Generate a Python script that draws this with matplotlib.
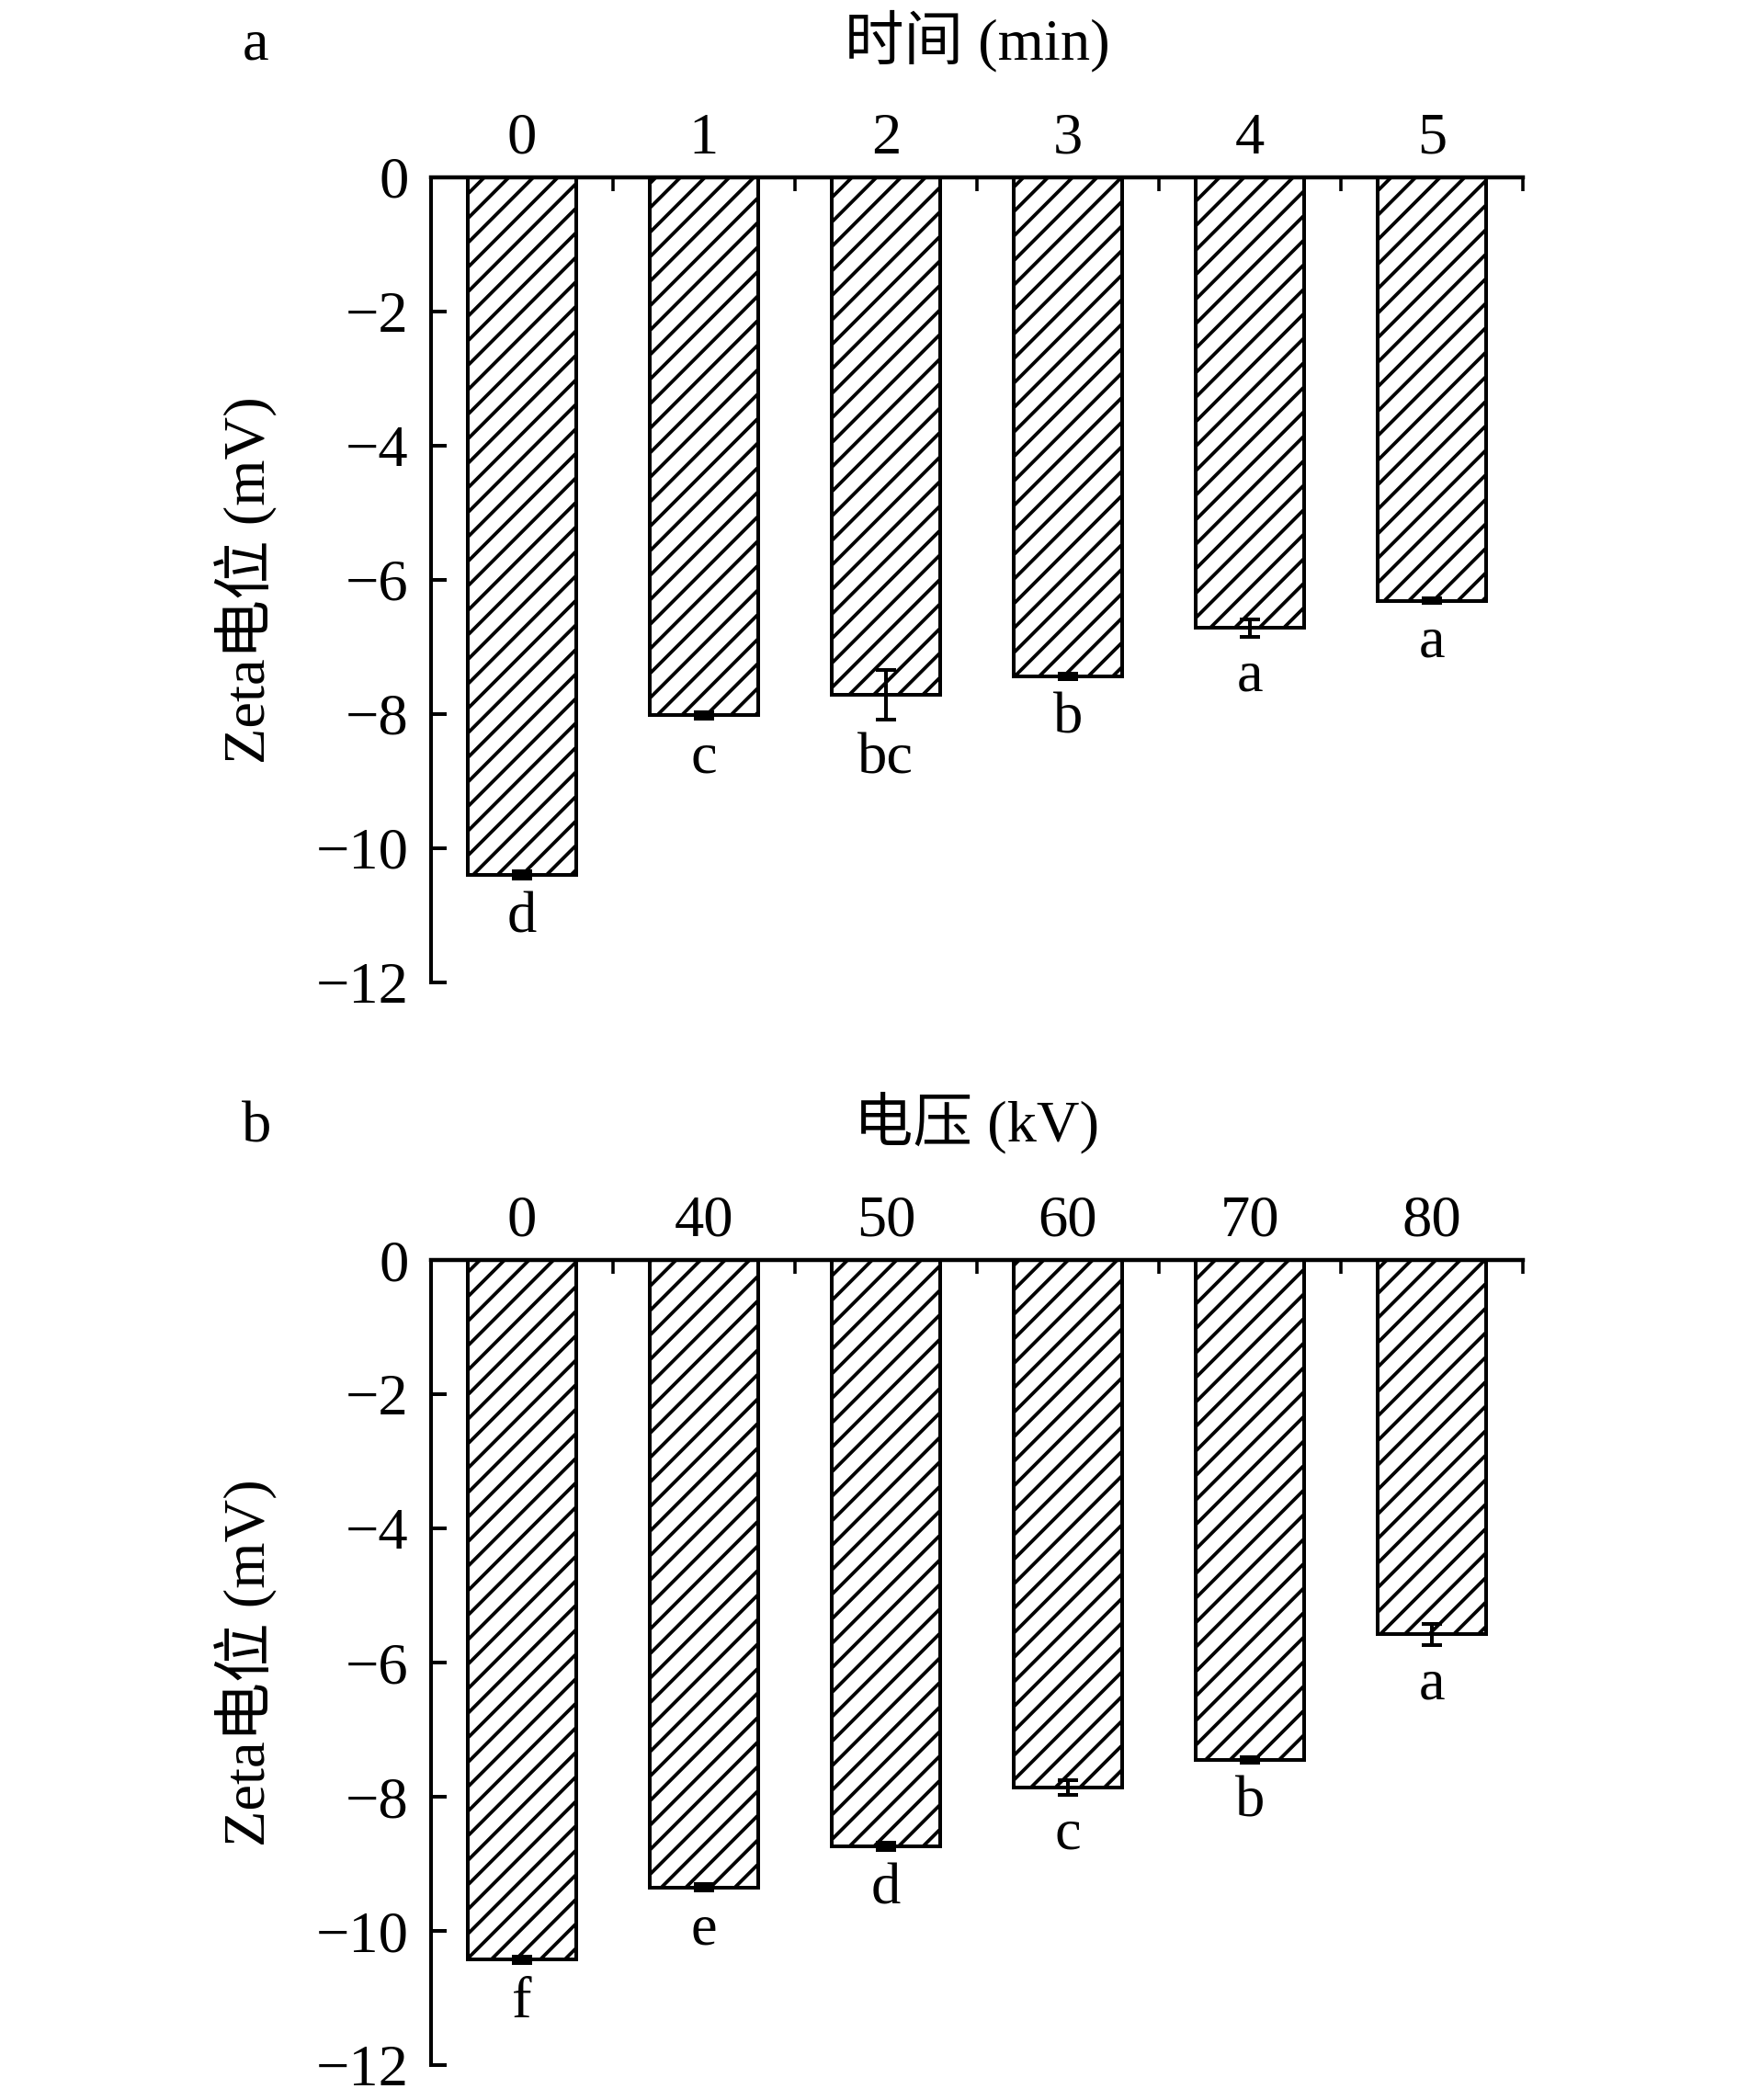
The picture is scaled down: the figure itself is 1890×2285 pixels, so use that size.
import numpy as np
import matplotlib.pyplot as plt

plt.rcParams['font.family'] = ['Liberation Serif', 'Noto Sans CJK SC']
plt.rcParams['font.size'] = 58
plt.rcParams['hatch.linewidth'] = 3.4

# a : temps de traitement
time_labels = ['0', '1', '2', '3', '4', '5']
time_zeta = [-10.40, -8.02, -7.72, -7.44, -6.72, -6.31]
time_err = [0.05, 0.05, 0.37, 0.04, 0.13, 0.04]
time_groups = ['d', 'c', 'bc', 'b', 'a', 'a']

# b : tension
volt_labels = ['0', '40', '50', '60', '70', '80']
volt_zeta = [-10.43, -9.35, -8.74, -7.86, -7.45, -5.58]
volt_err = [0.05, 0.05, 0.05, 0.11, 0.04, 0.16]
volt_groups = ['f', 'e', 'd', 'c', 'b', 'a']

yticks = [0, -2, -4, -6, -8, -10, -12]


def panel(ax, labels, vals, errs, groups, xtitle, tag):
    x = np.arange(len(labels))
    ax.bar(x, vals, width=0.6, color='white', edgecolor='black',
           linewidth=3.6, hatch='/', zorder=2)
    ax.errorbar(x, vals, yerr=errs, fmt='none', ecolor='black',
                elinewidth=3.6, capsize=10, capthick=3.6, zorder=3)
    for xi, v, e, g in zip(x, vals, errs, groups):
        ax.text(xi, v - e - 0.8, g, ha='center', va='baseline')

    ax.set_xlim(-0.5, len(labels) - 0.5)
    ax.set_ylim(-12, 0)
    ax.spines['right'].set_visible(False)
    ax.spines['bottom'].set_visible(False)
    ax.spines['top'].set_linewidth(4)
    ax.spines['left'].set_linewidth(3.6)

    ax.xaxis.set_ticks_position('top')
    ax.set_xticks(x)
    ax.set_xticklabels(labels)
    ax.set_xticks(x + 0.5, minor=True)
    ax.tick_params(axis='x', which='major', length=0, pad=11)
    ax.tick_params(axis='x', which='minor', direction='in', length=13.5,
                   width=3.2)
    ax.set_yticks(yticks)
    ax.tick_params(axis='y', direction='in', length=15, width=3.6, pad=22)

    ax.set_ylabel('Zeta电位 (mV)')
    ax.yaxis.set_label_coords(-0.14, 0.5)
    ax.text(0.5, 1.147, xtitle, transform=ax.transAxes, ha='center',
            va='baseline')
    ax.text(-0.173, 1.147, tag, transform=ax.transAxes, ha='left',
            va='baseline')


fig = plt.figure(figsize=(1890 / 80, 2285 / 80), dpi=80)
ax1 = fig.add_axes([0.2481, 0.5322, 0.6286, 0.3834])
ax2 = fig.add_axes([0.2481, 0.0166, 0.6286, 0.3834])

panel(ax1, time_labels, time_zeta, time_err, time_groups, '时间 (min)', 'a')
panel(ax2, volt_labels, volt_zeta, volt_err, volt_groups, '电压 (kV)', 'b')

fig.savefig('out.png', dpi=80)
